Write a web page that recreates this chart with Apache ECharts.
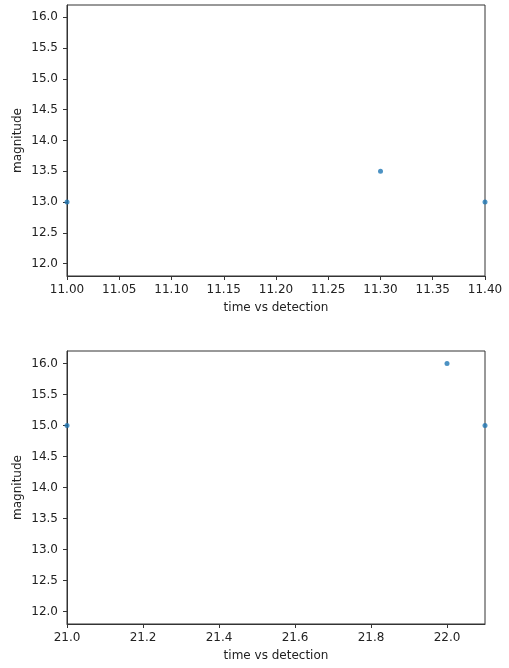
<!DOCTYPE html>
<html>
<head>
<meta charset="utf-8">
<script src="https://cdn.jsdelivr.net/npm/echarts@6/dist/echarts.min.js"></script>
<style>
  html, body { margin: 0; padding: 0; background: #fff; }
  #chart { width: 509px; height: 668px; }
</style>
</head>
<body>
<div id="chart"></div>
<script>
// top panel
const timesA = [11.00, 11.30, 11.40];
const magsA = [13.0, 13.5, 13.0];
const xTicksA = [11.00, 11.05, 11.10, 11.15, 11.20, 11.25, 11.30, 11.35, 11.40];

// bottom panel
const timesB = [21.0, 22.0, 22.1];
const magsB = [15.0, 16.0, 15.0];
const xTicksB = [21.0, 21.2, 21.4, 21.6, 21.8, 22.0];

const yTicks = [12.0, 12.5, 13.0, 13.5, 14.0, 14.5, 15.0, 15.5, 16.0];

const font = 'DejaVu Sans';
const textColor = '#222';
const axisColor = '#333';
const dotColor = '#1f77b4';

function xAxisFor(gridIndex, min, max, ticks, digits) {
  return {
    gridIndex: gridIndex,
    type: 'value',
    min: min,
    max: max,
    name: 'time vs detection',
    nameLocation: 'middle',
    nameGap: 26,
    nameMoveOverlap: false,
    nameTextStyle: { fontFamily: font, fontSize: 12, color: textColor },
    axisLine: { show: true, onZero: false, lineStyle: { color: axisColor, width: 1 } },
    axisTick: { show: true, length: 4, lineStyle: { color: axisColor }, customValues: ticks },
    axisLabel: {
      fontFamily: font, fontSize: 12, color: textColor, margin: 8,
      customValues: ticks,
      formatter: v => v.toFixed(digits),
    },
    splitLine: { show: false },
  };
}

function yAxisFor(gridIndex) {
  return {
    gridIndex: gridIndex,
    type: 'value',
    min: 11.8,
    max: 16.2,
    name: 'magnitude',
    nameLocation: 'middle',
    nameGap: 43,
    nameMoveOverlap: false,
    nameTextStyle: { fontFamily: font, fontSize: 12, color: textColor },
    axisLine: { show: true, onZero: false, lineStyle: { color: axisColor, width: 1 } },
    axisTick: { show: true, length: 4, lineStyle: { color: axisColor }, customValues: yTicks },
    axisLabel: {
      fontFamily: font, fontSize: 12, color: textColor, margin: 9,
      customValues: yTicks,
      formatter: v => v.toFixed(1),
    },
    splitLine: { show: false },
  };
}

const chart = echarts.init(document.getElementById('chart'), null, { renderer: 'canvas' });
chart.setOption({
  animation: false,
  backgroundColor: '#fff',
  grid: [
    { left: 67, top: 5, width: 418, height: 271, show: true, borderColor: axisColor, borderWidth: 1, backgroundColor: 'transparent' },
    { left: 67, top: 351, width: 418, height: 273, show: true, borderColor: axisColor, borderWidth: 1, backgroundColor: 'transparent' },
  ],
  xAxis: [
    xAxisFor(0, 11.0, 11.4, xTicksA, 2),
    xAxisFor(1, 21.0, 22.1, xTicksB, 1),
  ],
  yAxis: [yAxisFor(0), yAxisFor(1)],
  series: [
    {
      type: 'scatter', xAxisIndex: 0, yAxisIndex: 0,
      symbolSize: 5, itemStyle: { color: dotColor },
      data: timesA.map((t, i) => [t, magsA[i]]),
    },
    {
      type: 'scatter', xAxisIndex: 1, yAxisIndex: 1,
      symbolSize: 5, itemStyle: { color: dotColor },
      data: timesB.map((t, i) => [t, magsB[i]]),
    },
  ],
});
</script>
</body>
</html>
